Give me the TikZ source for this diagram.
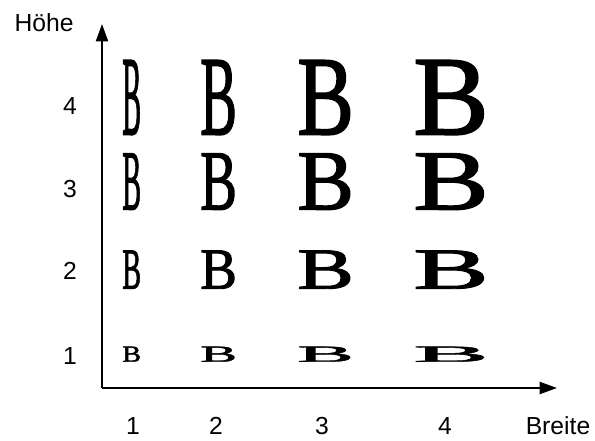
\documentclass[tikz,border=0pt]{standalone}
\usepackage{fontspec}
\setmainfont{Liberation Sans}
\newfontfamily\glyphfont{Liberation Serif}[FakeBold=1.6]
\usepackage{graphicx}
\usetikzlibrary{arrows.meta}

\begin{document}
\begin{tikzpicture}[x=0.75pt, y=-0.75pt,
  axis/.style={line width=1.5pt, -{Triangle[length=13pt,width=9pt]}},
  lbl/.style={font=\fontsize{18.5}{22}\selectfont, inner sep=0pt, anchor=base},
  glyph/.style={inner sep=0pt, anchor=south west}]
\useasboundingbox (0,0) rectangle (595,441);
\coordinate (origin) at (102,388);
\coordinate (ytop) at (102,24);
\coordinate (xend) at (557,388);
\draw[axis] (origin) -- (ytop);
\draw[axis] (origin) -- (xend);
\node[lbl] (hoehe) at (44,32) {Höhe};
\node[lbl] (breite) at (558,434) {Breite};
% scale numbers on both axes
\foreach \r/\y in {1/364, 2/280, 3/198, 4/115} \node[lbl] (row\r) at (70,\y) {\r};
\foreach \c/\x in {1/133, 2/216, 3/322, 4/445} \node[lbl] (col\c) at (\x,434) {\c};
% the stretched letters
\foreach \c/\x/\w in {1/122/17, 2/200/33, 3/297/51, 4/413/68}
  \foreach \r/\y/\h in {1/362/15, 2/289/38, 3/210/56, 4/135/74} {
    \pgfmathsetmacro\bw{\w*0.75/0.9}
    \pgfmathsetmacro\bh{\h*0.75}
    \node[glyph] (b\c\r) at (\x,\y) {\resizebox{\bw pt}{\bh pt}{\glyphfont B}};
  }
\end{tikzpicture}
\end{document}
